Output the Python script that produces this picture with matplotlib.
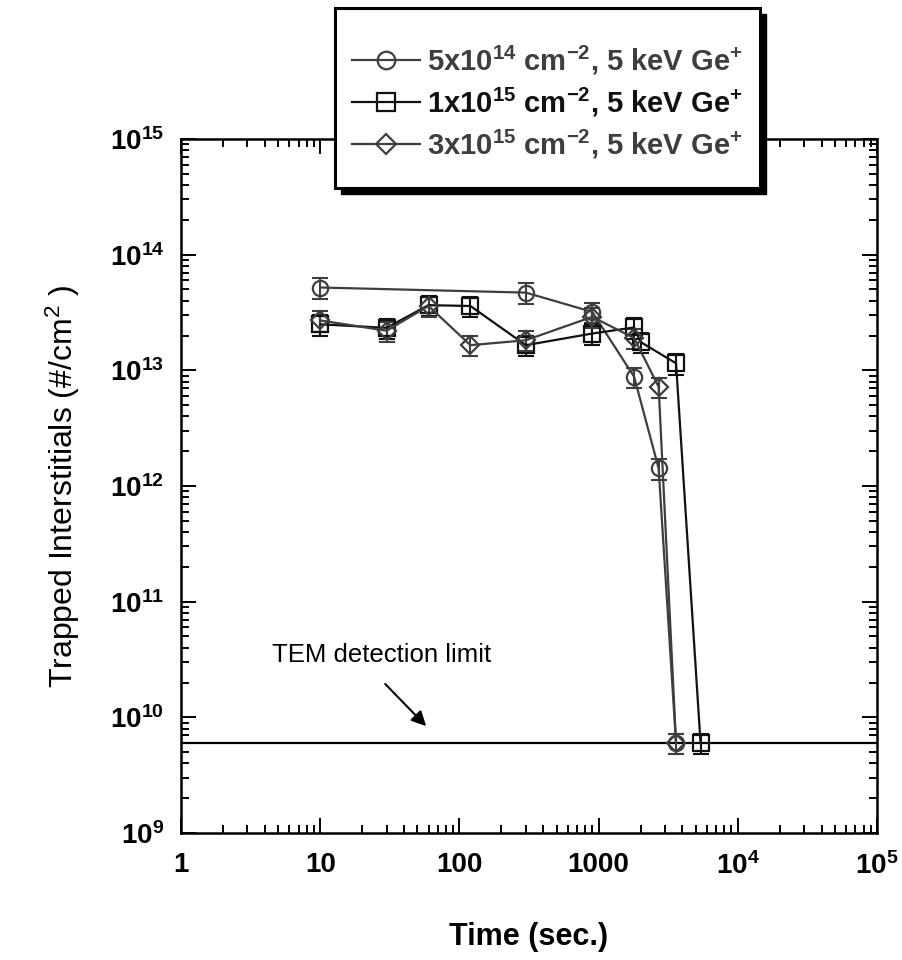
import numpy as np
import matplotlib.pyplot as plt
from matplotlib.ticker import FixedLocator, FixedFormatter, LogLocator, NullFormatter
from matplotlib.patches import Rectangle

plt.rcParams['font.family'] = ['Liberation Sans', 'DejaVu Sans']

# time (sec.) and trapped interstitials for the three implant doses
t_5e14 = [10, 300, 900, 1800, 2700, 3600]
n_5e14 = [5.2e13, 4.7e13, 3.2e13, 8.8e12, 1.42e12, 6e9]

t_1e15 = [10, 30, 60, 120, 300, 900, 1800, 2000, 3600, 5400]
n_1e15 = [2.5e13, 2.33e13, 3.66e13, 3.6e13, 1.65e13, 2.08e13, 2.35e13, 1.76e13, 1.15e13, 6e9]

t_3e15 = [10, 30, 60, 120, 300, 900, 1800, 2700, 3600]
n_3e15 = [2.7e13, 2.2e13, 3.6e13, 1.65e13, 1.82e13, 2.9e13, 1.9e13, 7.2e12, 6e9]

rel_err = 0.2
detection_limit = 6e9

labels = [r'5x10$\mathdefault{^{14}}$ cm$\mathdefault{^{-2}}$, 5 keV Ge$\mathdefault{^{+}}$',
          r'1x10$\mathdefault{^{15}}$ cm$\mathdefault{^{-2}}$, 5 keV Ge$\mathdefault{^{+}}$',
          r'3x10$\mathdefault{^{15}}$ cm$\mathdefault{^{-2}}$, 5 keV Ge$\mathdefault{^{+}}$']
x_ticks = [1, 10, 100, 1000, 1e4, 1e5]
x_ticklabels = ['1', '10', '100', '1000', r'$\mathdefault{10^{4}}$', r'$\mathdefault{10^{5}}$']
y_ticks = [1e9, 1e10, 1e11, 1e12, 1e13, 1e14, 1e15]
y_ticklabels = [r'$\mathdefault{10^{%d}}$' % e for e in range(9, 16)]

gray = '#3e3e3e'
black = '#111111'
W, H = 902, 960

fig = plt.figure(figsize=(9.02, 9.6), dpi=100)
ax = fig.add_axes([181 / W, 1 - 833 / H, 696 / W, 694 / H])
ax.set_xscale('log')
ax.set_yscale('log')
ax.set_xlim(1, 1e5)
ax.set_ylim(1e9, 1e15)

series = [(t_5e14, n_5e14, 'o', gray), (t_1e15, n_1e15, 's', black), (t_3e15, n_3e15, 'D', gray)]
handles = []
for (t, n, m, c), lab in zip(series, labels):
    n = np.array(n)
    ax.errorbar(t, n, yerr=rel_err * n, fmt='none', ecolor=c, elinewidth=1.5,
                capsize=6, capthick=1.5, zorder=3)
    ms = 11 if m != 'D' else 9
    h, = ax.plot(t, n, marker=m, color=c, lw=1.6, ms=ms, mfc='none', mec=c, mew=1.6,
                 label=lab, zorder=4)
    handles.append(h)

ax.axhline(detection_limit, color='black', lw=1.6, zorder=2)
ax.text(4.5, 3.45e10, 'TEM detection limit', fontsize=18.5, va='center', ha='left')
ax.annotate('', xy=(59.6, 8.07e9), xytext=(28.4, 2.02e10),
            arrowprops=dict(arrowstyle='-|>', color='black', lw=1.5, mutation_scale=22))

ax.xaxis.set_major_locator(FixedLocator(x_ticks))
ax.xaxis.set_major_formatter(FixedFormatter(x_ticklabels))
ax.xaxis.set_minor_locator(LogLocator(base=10, subs=np.arange(2, 10), numticks=20))
ax.xaxis.set_minor_formatter(NullFormatter())
ax.yaxis.set_major_locator(FixedLocator(y_ticks))
ax.yaxis.set_major_formatter(FixedFormatter(y_ticklabels))
ax.yaxis.set_minor_locator(LogLocator(base=10, subs=np.arange(2, 10), numticks=20))
ax.yaxis.set_minor_formatter(NullFormatter())

ax.tick_params(which='both', direction='in', top=True, right=True, width=1.4)
ax.tick_params(which='major', length=11)
ax.tick_params(which='minor', length=6)
ax.tick_params(axis='x', which='major', pad=14, labelsize=20)
ax.tick_params(axis='y', which='major', pad=12, labelsize=20)
for lbl in ax.get_xticklabels() + ax.get_yticklabels():
    lbl.set_fontweight('bold')
for s in ax.spines.values():
    s.set_linewidth(1.8)

ax.set_xlabel('Time (sec.)', fontsize=22, fontweight='bold', labelpad=30)
ax.set_ylabel(r'Trapped Interstitials (#/cm$\mathdefault{^{2}}$ )', fontsize=23, labelpad=20)

# legend box drawn by hand: white frame with a solid black drop shadow
bx0, by0, bx1, by1 = 335, 8, 760, 188
fig.patches.append(Rectangle((bx0 / W + 6 / W, 1 - by1 / H - 6 / H), (bx1 - bx0) / W, (by1 - by0) / H,
                             transform=fig.transFigure, facecolor='black', edgecolor='black', zorder=8))
fig.patches.append(Rectangle((bx0 / W, 1 - by1 / H), (bx1 - bx0) / W, (by1 - by0) / H,
                             transform=fig.transFigure, facecolor='white', edgecolor='black',
                             lw=2.2, zorder=9))

leg = fig.legend(handles=handles, loc='center',
                 bbox_to_anchor=((bx0 + bx1) / 2 / W, 1 - (by0 + by1 + 8) / 2 / H),
                 bbox_transform=fig.transFigure, borderaxespad=0, borderpad=0,
                 prop={'weight': 'bold', 'size': 21}, labelcolor=[gray, black, gray],
                 handlelength=2.3, handletextpad=0.25, labelspacing=0.3, frameon=False,
                 markerscale=1.15)
leg.set_zorder(10)

fig.savefig('out.png', dpi=100)
